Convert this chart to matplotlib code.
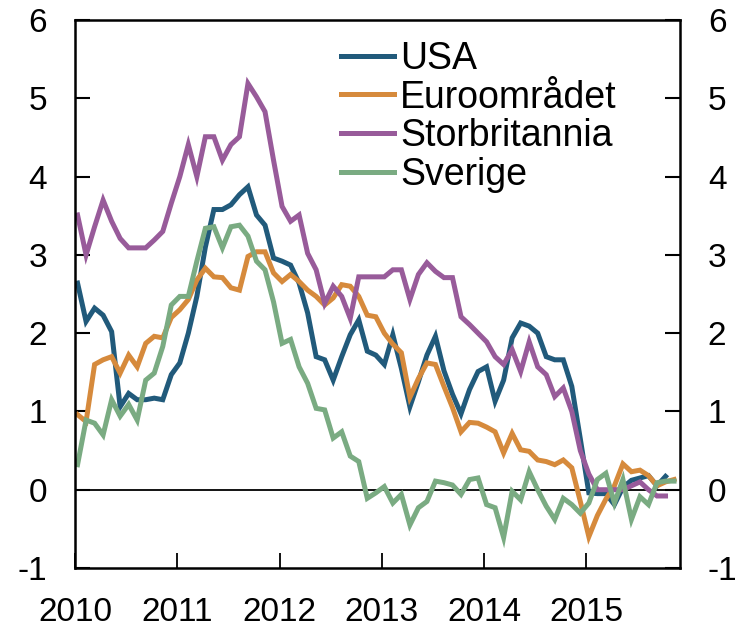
import matplotlib
matplotlib.use("Agg")
import matplotlib.pyplot as plt
import numpy as np

plt.rcParams['font.family'] = ['Liberation Sans', 'DejaVu Sans']

usa = [2.64, 2.15, 2.32, 2.23, 2.02, 1.06, 1.23, 1.15, 1.15, 1.17, 1.15, 1.47,
       1.62, 2.00, 2.47, 3.10, 3.58, 3.58, 3.64, 3.77, 3.87, 3.51, 3.38, 2.96,
       2.92, 2.87, 2.64, 2.26, 1.70, 1.66, 1.40, 1.70, 1.98, 2.17, 1.77, 1.72,
       1.60, 1.98, 1.55, 1.06, 1.38, 1.72, 1.96, 1.52, 1.22, 0.97, 1.28, 1.51,
       1.57, 1.13, 1.40, 1.94, 2.13, 2.09, 2.00, 1.70, 1.66, 1.66, 1.32, 0.65,
       -0.04, -0.05, -0.05, -0.19, 0.03, 0.12, 0.15, 0.18, 0.05, 0.17]

euro = [0.96, 0.87, 1.60, 1.66, 1.70, 1.49, 1.72, 1.57, 1.87, 1.96, 1.94, 2.20,
        2.30, 2.43, 2.68, 2.83, 2.72, 2.71, 2.58, 2.55, 2.98, 3.04, 3.04, 2.77,
        2.66, 2.75, 2.66, 2.55, 2.47, 2.36, 2.45, 2.62, 2.60, 2.47, 2.23, 2.21,
        2.00, 1.86, 1.75, 1.18, 1.42, 1.62, 1.60, 1.32, 1.05, 0.74, 0.86, 0.85,
        0.80, 0.74, 0.47, 0.72, 0.51, 0.49, 0.38, 0.36, 0.32, 0.38, 0.28, -0.15,
        -0.60, -0.33, -0.12, 0.05, 0.33, 0.23, 0.25, 0.18, 0.05, 0.10, 0.13]

uk = [3.51, 3.00, 3.36, 3.70, 3.43, 3.21, 3.09, 3.09, 3.09, 3.19, 3.30, 3.66,
      4.00, 4.41, 4.00, 4.51, 4.51, 4.21, 4.41, 4.51, 5.19, 5.02, 4.83, 4.21,
      3.62, 3.43, 3.51, 3.02, 2.81, 2.38, 2.60, 2.47, 2.19, 2.72, 2.72, 2.72,
      2.72, 2.81, 2.81, 2.43, 2.75, 2.90, 2.79, 2.71, 2.71, 2.21, 2.11, 2.00,
      1.89, 1.70, 1.60, 1.79, 1.51, 1.89, 1.57, 1.47, 1.19, 1.30, 1.00, 0.50,
      0.20, 0.00, 0.00, 0.00, 0.00, 0.05, 0.10, 0.00, -0.08, -0.08]

sweden = [0.32, 0.89, 0.85, 0.70, 1.15, 0.94, 1.09, 0.89, 1.40, 1.49, 1.83, 2.36,
          2.47, 2.47, 2.92, 3.34, 3.36, 3.09, 3.36, 3.38, 3.24, 2.92, 2.81, 2.40,
          1.87, 1.92, 1.57, 1.36, 1.04, 1.02, 0.66, 0.74, 0.43, 0.36, -0.11, -0.04,
          0.04, -0.17, -0.06, -0.45, -0.23, -0.15, 0.11, 0.09, 0.06, -0.06, 0.13, 0.15,
          -0.19, -0.23, -0.61, -0.02, -0.13, 0.23, 0.00, -0.21, -0.38, -0.11, -0.19, -0.30,
          -0.17, 0.13, 0.21, -0.17, 0.13, -0.38, -0.09, -0.19, 0.09, 0.11, 0.11]

names = ['USA', 'Euroområdet', 'Storbritannia', 'Sverige']
colors = ['#215a7b', '#d68a3c', '#985b9a', '#7aab82']
year_labels = ['2010', '2011', '2012', '2013', '2014', '2015']
y_ticks = [-1, 0, 1, 2, 3, 4, 5, 6]

def xs(series):
    return 2010 + (np.arange(len(series)) + 0.3) / 12.0

fig = plt.figure(figsize=(7.41, 6.29), dpi=100)
ax = fig.add_axes([0.1012, 0.097, 0.8165, 0.871])

for s, name, c in zip([usa, euro, uk, sweden], names, colors):
    ax.plot(xs(s), s, color=c, lw=3.6, label=name, solid_joinstyle='miter')

ax.axhline(0, color='black', lw=1.3, zorder=1)
ax.set_xlim(2010, 2010 + 71 / 12.0)
ax.set_ylim(-1, 6)
ax.set_yticks(y_ticks)
ax.set_yticklabels([str(v) for v in y_ticks])
ax.set_xticks([int(y) for y in year_labels])
ax.set_xticklabels(year_labels)

ax.tick_params(axis='y', which='both', direction='in', length=11, width=1.5,
               labelsize=24, left=True, right=True, labelleft=True, labelright=True, pad=20)
ax.tick_params(axis='x', direction='in', length=11, width=1.3, labelsize=24, pad=21)
for sp in ax.spines.values():
    sp.set_linewidth(1.8)

leg = ax.legend(loc='upper left', bbox_to_anchor=(0.4397, 0.962), frameon=False,
                fontsize=27, handlelength=1.4, handletextpad=0.17,
                labelspacing=0.07, borderaxespad=0.0, borderpad=0.0)

fig.savefig('out.png', dpi=100)
